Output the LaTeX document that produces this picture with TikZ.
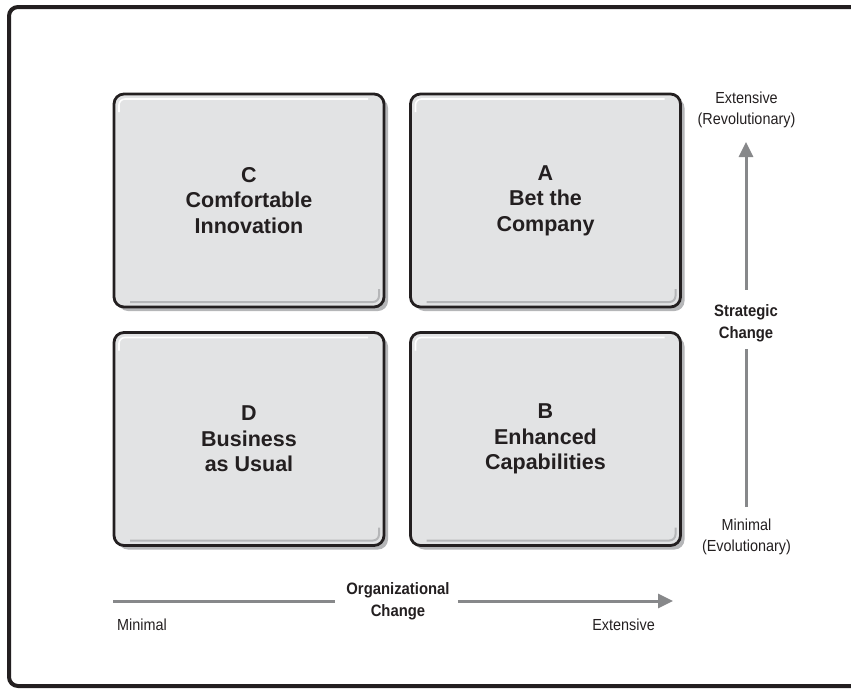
\documentclass[tikz,border=0pt]{standalone}
\usepackage{fontspec}
\setmainfont{Liberation Sans}
\newfontfamily\lblfont[FakeStretch=0.9]{Liberation Sans}
\usetikzlibrary{arrows.meta,shadows}
\definecolor{boxgray}{HTML}{E2E3E4}
\definecolor{shadowgray}{HTML}{B5B6B8}
\definecolor{axisgray}{HTML}{87888A}
\definecolor{ink}{HTML}{231F20}

\begin{document}
\begin{tikzpicture}[x=1pt,y=-1pt,
    quad/.style={draw=ink, line width=2.8pt, rounded corners=10pt, fill=boxgray,
        minimum width=270pt, minimum height=213pt, align=center, text=ink,
        font=\fontsize{21.5}{25.5}\selectfont\bfseries,
        drop shadow={shadow xshift=4pt, shadow yshift=-4pt, fill=shadowgray, opacity=1},
        path picture={
            \draw[white, line width=1.6pt, rounded corners=6pt]
                ([xshift=5pt,yshift=-18pt]path picture bounding box.north west) --
                ([xshift=5pt,yshift=-5pt]path picture bounding box.north west) --
                ([xshift=-16pt,yshift=-5pt]path picture bounding box.north east);
            \draw[shadowgray, line width=2pt, rounded corners=6pt]
                ([xshift=16pt,yshift=5pt]path picture bounding box.south west) --
                ([xshift=-5pt,yshift=5pt]path picture bounding box.south east) --
                ([xshift=-5pt,yshift=18pt]path picture bounding box.south east);}},
    axis/.style={draw=axisgray, line width=3pt},
    axistip/.style={axis, -{Triangle[width=14pt,length=15pt]}},
    axlabel/.style={align=center, text=ink, inner sep=0pt,
        font=\lblfont\fontsize{16.5}{22}\selectfont\bfseries},
    endlabel/.style={align=center, text=ink, inner sep=0pt,
        font=\lblfont\fontsize{16}{20.5}\selectfont}]
    \useasboundingbox (0,0) rectangle (851,688);
    \draw[ink, line width=4pt, rounded corners=9pt] (9,7) rectangle (880,686);

    \node[quad] (c) at (249,200.5) {C\\Comfortable\\Innovation};
    \node[quad] (a) at (545.5,200.5) {A\\Bet the\\Company};
    \node[quad] (d) at (249,439) {D\\Business\\as Usual};
    \node[quad] (b) at (545.5,439) {B\\Enhanced\\Capabilities};

    \coordinate (vbot) at (746,507);
    \coordinate (vtop) at (746,142);
    \node[axlabel] (strat) at (746,322.8) {Strategic\\Change};
    \draw[axis] (vbot) -- ([yshift=-7.5pt]strat.south);
    \draw[axistip] ([yshift=14pt]strat.north) -- (vtop);

    \coordinate (hleft) at (113,601);
    \coordinate (hright) at (673,601);
    \node[axlabel] (org) at (398,601) {Organizational\\Change};
    \draw[axis] (hleft) -- ([xshift=-11.5pt]org.west);
    \draw[axistip] ([xshift=8pt]org.east) -- (hright);

    \node[endlabel] (extop) at (746.5,110) {Extensive\\(Revolutionary)};
    \node[endlabel] (minbot) at (746.5,537) {Minimal\\(Evolutionary)};
    \node[endlabel, anchor=base west] (minleft) at (117,630) {Minimal};
    \node[endlabel, anchor=base east] (exright) at (655,630) {Extensive};
\end{tikzpicture}
\end{document}
